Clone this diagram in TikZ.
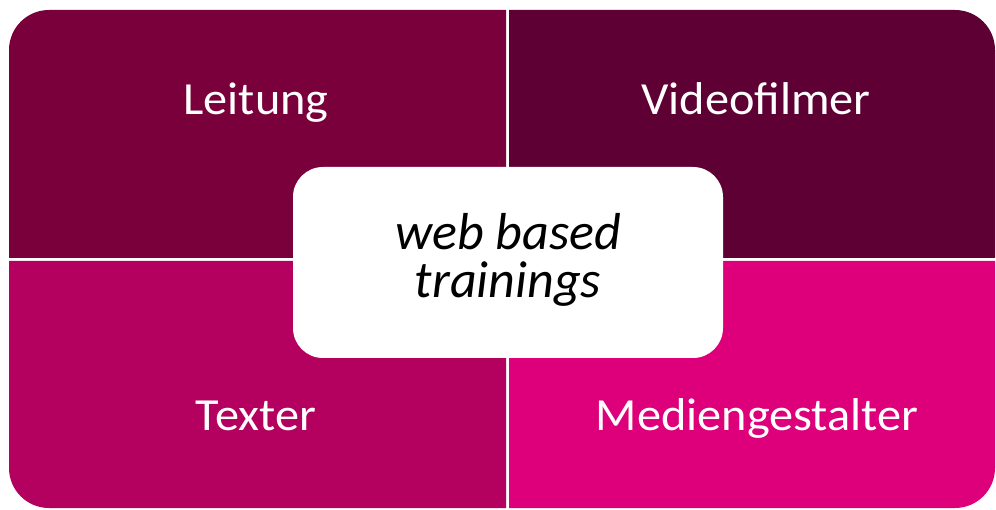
\documentclass[tikz,border=0pt]{standalone}
\usepackage{fontspec}
\setmainfont{Carlito}
\definecolor{quadA}{RGB}{122,0,60}
\definecolor{quadB}{RGB}{94,0,51}
\definecolor{quadC}{RGB}{180,0,94}
\definecolor{quadD}{RGB}{222,0,122}
\begin{document}
\begin{tikzpicture}[x=1pt,y=-1pt,
  label/.style={text=white,font=\fontsize{46}{52}\selectfont,anchor=base,xscale=1.05},
  centretext/.style={font=\fontsize{52}{48}\selectfont\itshape,anchor=base}]
\useasboundingbox (0,0) rectangle (996,510);
% four quarters, rounded only at the outer corners
\fill[quadA] (9,258) [rounded corners=40pt] -- (9,10) [sharp corners] -- (506,10) -- (506,258) -- cycle;
\fill[quadB] (509,10) [rounded corners=40pt] -- (995,10) [sharp corners] -- (995,258) -- (509,258) -- cycle;
\fill[quadC] (506,261) -- (506,508) [rounded corners=40pt] -- (9,508) [sharp corners] -- (9,261) -- cycle;
\fill[quadD] (509,261) -- (995,261) [rounded corners=40pt] -- (995,508) [sharp corners] -- (509,508) -- cycle;
% centre box
\node[fill=white,rounded corners=30pt,minimum width=430pt,minimum height=191pt,inner sep=0pt] (centre) at (508,262.5) {};
\node[centretext] (web) at (508,250) {web based};
\node[centretext] (train) at (508,298) {trainings};
\node[label] (lei) at (256,115) {Leitung};
\node[label] (vid) at (756,115) {Videofilmer};
\node[label] (tex) at (256,430) {Texter};
\node[label] (med) at (757,430) {Mediengestalter};
\end{tikzpicture}
\end{document}
